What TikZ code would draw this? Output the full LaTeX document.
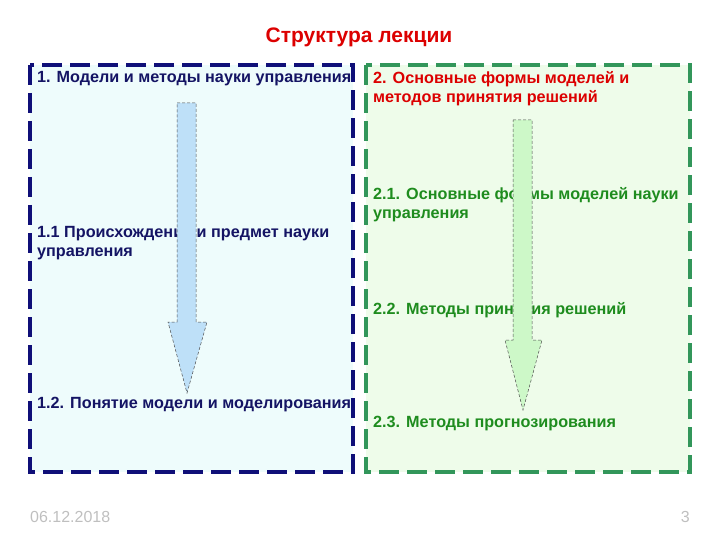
\documentclass[tikz,border=0pt]{standalone}
\usepackage{fontspec}
\setmainfont{Liberation Sans}
\begin{document}
\begin{tikzpicture}[x=1pt,y=-1pt,
  t/.style={anchor=north west,align=left,inner sep=0pt,font=\bfseries\fontsize{16.2}{19}\selectfont},
  lbox/.style={draw=navy,line width=3.5pt,dash pattern=on 20pt off 8pt,fill=lfill},
  rbox/.style={draw=rborder,line width=3.5pt,dash pattern=on 20pt off 8pt,fill=rfill},
  arr/.style={draw=black!70,dash pattern=on 3pt off 2pt,line width=0.5pt}]
\definecolor{navy}{RGB}{15,15,120}
\definecolor{tnavy}{RGB}{20,20,100}
\definecolor{dgreen}{RGB}{30,140,30}
\definecolor{redt}{RGB}{220,0,0}
\definecolor{lfill}{RGB}{238,252,252}
\definecolor{rfill}{RGB}{238,252,234}
\definecolor{rborder}{RGB}{50,150,90}
\definecolor{afill1}{RGB}{190,224,248}
\definecolor{afill2}{RGB}{205,248,200}
\useasboundingbox (0,0) rectangle (720,540);
\node[inner sep=0pt,text=redt,font=\bfseries\fontsize{21}{24}\selectfont] (title) at (359,37) {Структура лекции};
\draw[lbox] (30,65) rectangle (353,472);
\draw[rbox] (366,65) rectangle (690,472);
\node[t,text=tnavy] (l1) at (37,71) {1. Модели и методы науки управления};
\node[t,text=tnavy] (l2) at (37,226) {1.1 Происхождение и предмет науки\\управления};
\node[t,text=tnavy] (l3) at (37,397) {1.2. Понятие модели и моделирования};
\node[t,text=redt] (r1) at (373,71) {2. Основные формы моделей и\\методов принятия решений};
\node[t,text=dgreen] (r2) at (373,187) {2.1. Основные формы моделей науки\\управления};
\node[t,text=dgreen] (r3) at (373,302) {2.2. Методы принятия решений};
\node[t,text=dgreen] (r4) at (373,416) {2.3. Методы прогнозирования};
\draw[arr,fill=afill1] (177,103) -- (196,103) -- (196,322) -- (207,322) -- (187,393) -- (168,322) -- (177,322) -- cycle;
\draw[arr,fill=afill2] (513,120) -- (532,120) -- (532,340) -- (542,340) -- (523,410) -- (505,340) -- (513,340) -- cycle;
\node[anchor=west,inner sep=0pt,text=black!25,font=\fontsize{16}{18}\selectfont] (date) at (30,517) {06.12.2018};
\node[anchor=east,inner sep=0pt,text=black!25,font=\fontsize{16}{18}\selectfont] (pg) at (690,517) {3};
\end{tikzpicture}
\end{document}
